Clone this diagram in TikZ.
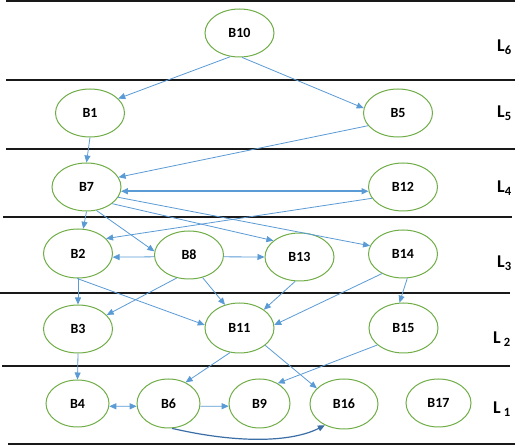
\documentclass[tikz,border=0pt]{standalone}
\usepackage{fontspec}
\setmainfont{Carlito}
\usetikzlibrary{arrows.meta,shapes.geometric}
\definecolor{ngreen}{HTML}{70AD47}
\definecolor{eblue}{HTML}{5B9BD5}
\definecolor{dblue}{HTML}{3A6EA5}
\begin{document}
\begin{tikzpicture}[x=1pt,y=-1pt,
 blk/.style={ellipse,draw=ngreen,line width=1pt,minimum width=69pt,minimum height=48pt,inner sep=0pt,font=\fontsize{14}{16}\selectfont\bfseries},
 sml/.style={blk,minimum width=63pt},
 edge/.style={draw=eblue,line width=0.8pt,-{Triangle[length=7pt,width=6pt]}},
 bi/.style={edge,{Triangle[length=7pt,width=6pt]}-{Triangle[length=7pt,width=6pt]}},
 sep/.style={line width=2.6pt,draw=black!90},
 lvl/.style={anchor=base west,inner sep=0pt,font=\fontsize{18}{20}\selectfont\bfseries}]
\useasboundingbox (0,0) rectangle (520,446);
\fill[white] (0,0) rectangle (520,446);
% level separators
\draw[sep] (6,1) -- (515,1);
\draw[sep] (6,80) -- (515,80);
\draw[sep] (6,149) -- (515,149);
\draw[sep] (3,217) -- (512,217);
\draw[sep] (0,293) -- (510,293);
\draw[sep] (2,366) -- (510,366);
\draw[sep] (8,444) -- (515,444);
% level labels
\node[lvl] (l6) at (497,52) {L\textsubscript{6}};
\node[lvl] (l5) at (497,118) {L\textsubscript{5}};
\node[lvl] (l4) at (497,193) {L\textsubscript{4}};
\node[lvl] (l3) at (497,268) {L\textsubscript{3}};
\node[lvl] (l2) at (493,344) {L\,\textsubscript{2}};
\node[lvl] (l1) at (493,414) {L\,\textsubscript{1}};
% blocks
\node[blk] (b10) at (239.5,33) {B10};
\node[blk] (b1) at (90,113) {B1};
\node[blk] (b5) at (398,113) {B5};
\node[blk] (b7) at (86.5,187) {B7};
\node[blk] (b12) at (403,187) {B12};
\node[blk,minimum height=49pt] (b2) at (78,253.5) {B2};
\node[blk] (b8) at (189,255) {B8};
\node[blk] (b13) at (299.5,257) {B13};
\node[blk] (b14) at (403,254) {B14};
\node[blk] (b3) at (78,329) {B3};
\node[blk,minimum height=50pt] (b11) at (239.5,328) {B11};
\node[blk,minimum height=50pt] (b15) at (403.5,328) {B15};
\node[sml,minimum height=47pt] (b4) at (77.5,403.5) {B4};
\node[sml,minimum height=49pt] (b6) at (168.5,403.5) {B6};
\node[sml,minimum width=61pt,minimum height=49pt] (b9) at (259.5,403.5) {B9};
\node[blk,minimum width=68pt,minimum height=50pt] (b16) at (344,404) {B16};
\node[sml,minimum width=65pt] (b17) at (438.5,403) {B17};
% edges
\draw[edge] (b10.-111) -- (b1.27);
\draw[edge] (b10.-84) -- (b5.172);
\draw[edge] (b1.south) -- (b7.north);
\draw[edge] (b5.203) -- (b7.17);
\draw[bi,line width=1.5pt] (b7.-7) -- (b12.187);
\draw[edge] (b12.200) -- (b2.28);
\draw[edge] (b7.south) -- (b2.78);
\draw[edge] (b7.-67) -- (b8.174);
\draw[edge] (b7.-33) -- (b13.148);
\draw[edge] (b7.-18) -- (b14.166);
\draw[edge] (b8.183) -- (b2.-6);
\draw[edge] (b8.-3) -- (b13.180);
\draw[edge] (b8.242) -- (b3.26);
\draw[edge] (b8.-59) -- (b11.122);
\draw[edge] (b2.south) -- (b3.north);
\draw[edge] (b2.-92) -- (b11.175);
\draw[edge] (b13.-100) -- (b11.37);
\draw[edge] (b14.223) -- (b11.5);
\draw[edge] (b14.-80) -- (b15.99);
\draw[edge] (b3.south) -- (b4.north);
\draw[bi] (b4.-5) -- (b6.185);
\draw[edge] (b6.-5) -- (b9.185);
\draw[edge] (b11.249) -- (b6.51);
\draw[edge] (b11.-34) -- (b16.150);
\draw[edge] (b15.213) -- (b9.48);
\draw[edge,draw=dblue,line width=1.2pt] (b6.-82) .. controls (235,443) and (290,443) .. (b16.228);
\end{tikzpicture}
\end{document}
